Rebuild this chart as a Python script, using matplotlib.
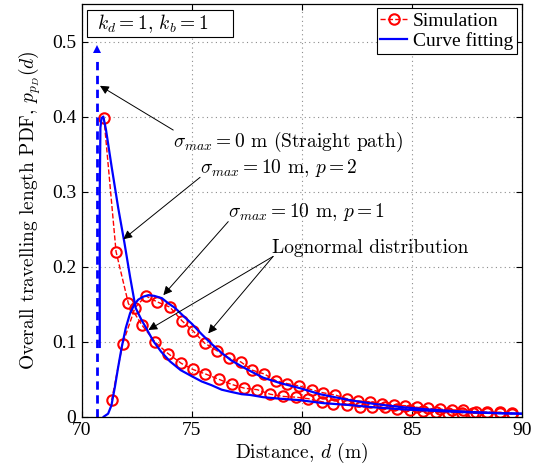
import matplotlib
matplotlib.use("Agg")
import matplotlib.pyplot as plt
from matplotlib.lines import Line2D
from matplotlib.patches import Rectangle

# Straight-path travelling length (delta) and the height of its arrow
straight_d = 70.71
straight_peak = 0.49

# Simulated PDF, sigma_max = 10 m, p = 1
sim_p1_d = [71.36, 71.86, 72.42, 72.91, 73.43, 74.01, 74.55, 75.07, 75.59, 76.14,
            76.71, 77.23, 77.75, 78.29, 78.83, 79.35, 79.89, 80.45, 80.95, 81.51,
            82.05, 82.57, 83.10, 83.64, 84.20, 84.70, 85.23, 85.75, 86.29, 86.82,
            87.35, 87.92, 88.44, 89.01, 89.55]
sim_p1_pdf = [0.022, 0.097, 0.145, 0.161, 0.153, 0.146, 0.128, 0.114, 0.098, 0.088,
              0.078, 0.073, 0.062, 0.057, 0.048, 0.044, 0.041, 0.036, 0.032, 0.029,
              0.024, 0.021, 0.020, 0.017, 0.0156, 0.0147, 0.0125, 0.011, 0.010, 0.009,
              0.009, 0.0067, 0.006, 0.006, 0.005]

# Simulated PDF, sigma_max = 10 m, p = 2
sim_p2_d = [71.01, 71.56, 72.12, 72.74, 73.35, 73.93, 74.53, 75.05, 75.62, 76.22,
            76.82, 77.39, 77.98, 78.56, 79.16, 79.74, 80.30, 80.91, 81.44, 82.05,
            82.65, 83.21, 83.79, 84.35, 84.92, 85.50, 86.10, 86.66, 87.27, 87.80,
            88.44, 89.01, 89.58]
sim_p2_pdf = [0.398, 0.220, 0.151, 0.122, 0.099, 0.084, 0.071, 0.063, 0.057, 0.050,
              0.043, 0.038, 0.036, 0.030, 0.027, 0.026, 0.024, 0.020, 0.017, 0.0156,
              0.013, 0.013, 0.0125, 0.010, 0.009, 0.007, 0.006, 0.0053, 0.0053, 0.0045,
              0.0045, 0.0045, 0.004]

# Fitted (lognormal) curve, p = 1
fit_p1_d = [71.00, 71.20, 71.35, 71.51, 71.65, 71.82, 72.00, 72.20, 72.40, 72.57,
            72.80, 73.03, 73.30, 73.64, 73.94, 74.24, 74.70, 75.00, 75.45, 75.90,
            76.36, 76.80, 77.27, 77.65, 78.25, 79.00, 79.92, 80.83, 81.50, 82.20,
            83.30, 84.47, 85.60, 86.74, 87.90, 89.01, 90.00]
fit_p1_pdf = [0.000, 0.004, 0.015, 0.040, 0.065, 0.093, 0.118, 0.138, 0.150, 0.156,
              0.160, 0.162, 0.161, 0.158, 0.151, 0.145, 0.132, 0.124, 0.110, 0.097,
              0.085, 0.075, 0.067, 0.061, 0.052, 0.045, 0.038, 0.030, 0.026, 0.022,
              0.017, 0.013, 0.010, 0.0078, 0.006, 0.0047, 0.004]

# Fitted (lognormal) curve, p = 2
fit_p2_d = [70.82, 70.82, 70.85, 70.90, 70.98, 71.10, 71.36, 71.66, 71.94, 72.20,
            72.45, 72.70, 72.95, 73.25, 73.60, 74.00, 74.50, 75.00, 75.45, 75.90,
            76.36, 76.80, 77.27, 77.65, 78.25, 79.00, 79.92, 81.00, 82.20, 83.30,
            84.47, 85.60, 86.74, 87.90, 89.01, 90.00]
fit_p2_pdf = [0.093, 0.300, 0.385, 0.398, 0.400, 0.383, 0.333, 0.278, 0.232, 0.186,
              0.145, 0.130, 0.117, 0.101, 0.087, 0.074, 0.062, 0.054, 0.047, 0.042,
              0.036, 0.033, 0.030, 0.029, 0.026, 0.024, 0.022, 0.018, 0.0155, 0.0125,
              0.010, 0.0083, 0.0068, 0.0055, 0.0046, 0.004]

x_ticks = [70, 75, 80, 85, 90]
y_ticks = [0, 0.1, 0.2, 0.3, 0.4, 0.5]
y_tick_labels = ["0", "0.1", "0.2", "0.3", "0.4", "0.5"]

plt.rcParams["mathtext.fontset"] = "cm"
CM = "cmr10"
TIMES = "Liberation Serif"
FS = 14

fig = plt.figure(figsize=(5.43, 4.66), dpi=100)
ax = fig.add_axes([0.1505, 0.1058, 0.8103, 0.8856])

red = "#ff0000"
blue = "#0000ff"

# simulation markers with dashed connecting lines
ax.plot(sim_p2_d, sim_p2_pdf, "--", color=red, lw=1.0, marker="o", ms=7.5,
        mfc="none", mec=red, mew=1.5)
ax.plot(sim_p1_d, sim_p1_pdf, "--", color=red, lw=1.0, marker="o", ms=7.5,
        mfc="none", mec=red, mew=1.5)

# fitted curves
ax.plot(fit_p1_d, fit_p1_pdf, "-", color=blue, lw=1.6)
ax.plot(fit_p2_d, fit_p2_pdf, "-", color=blue, lw=1.6)

# straight path: delta drawn as a dashed arrow
ax.plot([straight_d, straight_d], [0, straight_peak - 0.012], "--", color=blue,
        lw=2.0, dashes=(3, 2))
ax.plot([straight_d], [straight_peak], marker="^", color=blue, ms=6, mew=0)

ax.set_xlim(70, 90)
ax.set_ylim(0, 0.55)
ax.set_xticks(x_ticks)
ax.set_yticks(y_ticks)
ax.set_yticklabels(y_tick_labels)
for lab in ax.get_xticklabels() + ax.get_yticklabels():
    lab.set_fontfamily(TIMES)
    lab.set_fontsize(FS)
ax.tick_params(direction="in", length=4.5, width=0.8, top=True, right=True, pad=4)
ax.grid(True, linestyle=(0, (1, 3)), color="#8c8c8c", lw=0.8)
for s in ax.spines.values():
    s.set_linewidth(0.9)

ax.set_xlabel(r"Distance, $d$ (m)", family=CM, fontsize=FS, labelpad=1)
ax.set_ylabel(r"Overall travelling length PDF, $p_{p_D}(d)$", family=CM,
              fontsize=FS, labelpad=6)

# parameter box
ax.add_patch(Rectangle((0.0114, 0.920), 0.333, 0.0655, transform=ax.transAxes,
                       fc="white", ec="black", lw=0.8, zorder=4))
ax.text(0.0341, 0.953, r"$k_d = 1$, $k_b = 1$", family=CM, fontsize=FS,
        ha="left", va="center", transform=ax.transAxes, zorder=5)

arrow_kw = dict(arrowstyle="-|>", color="black", lw=0.7, mutation_scale=13,
                shrinkA=0, shrinkB=0)

# annotations
ax.text(74.16, 0.360, r"$\sigma_{max} = 0$ m (Straight path)", family=CM,
        fontsize=FS, ha="left", va="baseline")
ax.annotate("", xy=(70.83, 0.441), xytext=(74.16, 0.382), arrowprops=arrow_kw)

ax.text(75.38, 0.3245, r"$\sigma_{max} = 10$ m, $p = 2$", family=CM,
        fontsize=FS, ha="left", va="baseline")
ax.annotate("", xy=(71.89, 0.2365), xytext=(75.38, 0.319), arrowprops=arrow_kw)

ax.text(76.66, 0.2667, r"$\sigma_{max} = 10$ m, $p = 1$", family=CM,
        fontsize=FS, ha="left", va="baseline")
ax.annotate("", xy=(73.71, 0.162), xytext=(76.66, 0.260), arrowprops=arrow_kw)

ax.text(78.64, 0.218, "Lognormal distribution", family=CM,
        fontsize=FS, ha="left", va="baseline")
ax.annotate("", xy=(73.03, 0.1156), xytext=(78.70, 0.2136), arrowprops=arrow_kw)
ax.annotate("", xy=(75.75, 0.111), xytext=(78.70, 0.2136), arrowprops=arrow_kw)

# legend
handles = [
    Line2D([], [], ls="--", color=red, lw=1.0, marker="o", ms=7.5, mfc="none",
           mec=red, mew=1.5),
    Line2D([], [], ls="-", color=blue, lw=1.6),
]
leg = ax.legend(handles, ["Simulation", "Curve fitting"], loc="upper right",
                bbox_to_anchor=(1 - 5 / 440, 1 - 4.3 / 412.7), borderaxespad=0,
                prop=dict(family=TIMES, size=FS), handlelength=1.35,
                handletextpad=0.3, labelspacing=0.1, borderpad=0.2,
                fancybox=False, framealpha=1, edgecolor="black")
leg.get_frame().set_linewidth(0.8)

fig.savefig("out.png", dpi=100)
